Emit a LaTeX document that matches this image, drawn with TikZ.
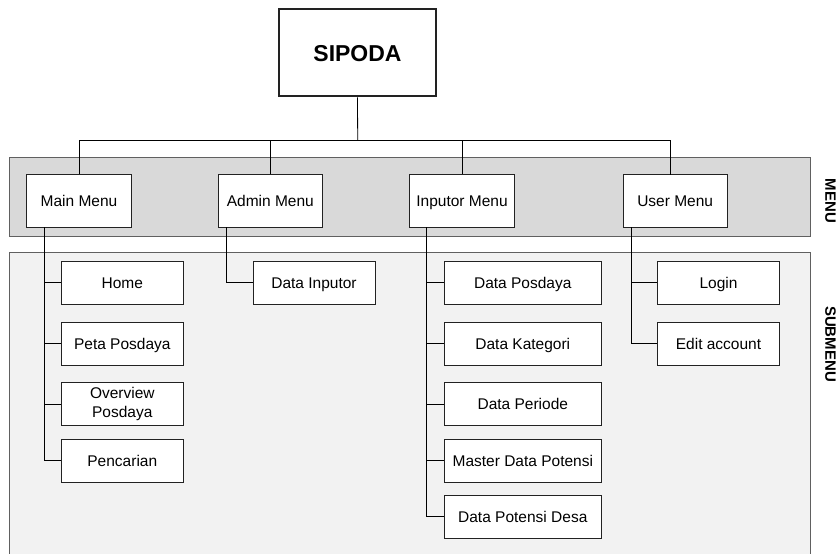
\documentclass[tikz,border=0pt]{standalone}
\usepackage{fontspec}
\setmainfont{Liberation Sans}
\usetikzlibrary{calc}
\definecolor{bandA}{HTML}{D9D9D9}
\definecolor{bandB}{HTML}{F2F2F2}
\definecolor{bandline}{HTML}{606060}
\definecolor{boxline}{HTML}{222222}
\begin{document}
\begin{tikzpicture}[x=1pt,y=-1pt,
  box/.style={draw=boxline,fill=white,line width=0.9pt,rectangle,inner sep=0pt,
    font=\fontsize{15.5}{18.7}\selectfont,align=center},
  oneline/.style={text height=11.5pt,text depth=0.5pt},
  menubox/.style={box,oneline,minimum width=104.5pt,minimum height=52.3pt},
  subbox/.style={box,oneline,minimum width=122pt,minimum height=43pt},
  twobox/.style={box,minimum width=122pt,minimum height=43pt},
  widebox/.style={box,oneline,minimum width=157pt,minimum height=43pt},
  conn/.style={draw=black,line width=0.8pt},
  bandedge/.style={draw=bandline,line width=0.9pt},
  sidelabel/.style={font=\fontsize{15}{18}\selectfont\bfseries,rotate=-90,inner sep=0pt}]
\useasboundingbox (0,0) rectangle (838,554);
% bands
\fill[bandA] (9,157) rectangle (810,236);
\draw[bandedge] (9,157) rectangle (810,236);
\fill[bandB] (9,252.7) rectangle (810,554);
\draw[bandedge] (9,554) -- (9,252.7) -- (810,252.7) -- (810,554);
\node[sidelabel] (lmenu) at (830.5,201) {MENU};
\node[sidelabel] (lsub) at (830.5,344) {SUBMENU};
% root
\node[box,line width=2pt,minimum width=157pt,minimum height=87pt,
  text height=16.5pt,text depth=0pt,
  font=\fontsize{23}{27}\selectfont\bfseries] (sipoda) at (357.5,52.8) {SIPODA};
% menus
\node[menubox] (mm) at (79,200.8) {Main Menu};
\node[menubox] (am) at (270.3,200.8) {Admin Menu};
\node[menubox] (im) at (462,200.8) {Inputor Menu};
\node[menubox] (um) at (675.2,200.8) {User Menu};
% bus
\coordinate (bus) at (357.7,140);
\coordinate (utop) at (670.7,174.7);
\draw[conn] (sipoda.south) -- (bus);
\draw[conn] (bus) -| (mm.north);
\draw[conn] (bus) -| (am.north);
\draw[conn] (bus) -| (im.north);
\draw[conn] (bus) -| (utop);
% submenus: main
\node[subbox] (home) at (122.3,282.8) {Home};
\node[subbox] (peta) at (122.3,343.8) {Peta Posdaya};
\node[twobox] (over) at (122.3,404.3) {Overview\\Posdaya};
\node[subbox] (cari) at (122.3,460.7) {Pencarian};
% admin
\node[subbox] (dinp) at (314,282.8) {Data Inputor};
% inputor
\node[widebox] (dpos) at (522.8,282.8) {Data Posdaya};
\node[widebox] (dkat) at (522.8,343.8) {Data Kategori};
\node[widebox] (dper) at (522.8,404.3) {Data Periode};
\node[widebox] (mdp) at (522.8,460.7) {Master Data Potensi};
\node[widebox] (dpd) at (522.8,516.8) {Data Potensi Desa};
% user
\node[subbox] (login) at (718.5,282.8) {Login};
\node[subbox] (edit) at (718.5,343.8) {Edit account};
% trunks
\coordinate (mt) at (44.3,227);
\coordinate (at) at (226.7,227);
\coordinate (it) at (426.7,227);
\coordinate (ut) at (631.7,227);
\foreach \n in {home,peta,over,cari} \draw[conn] (mt) |- (\n.west);
\draw[conn] (at) |- (dinp.west);
\foreach \n in {dpos,dkat,dper,mdp,dpd} \draw[conn] (it) |- (\n.west);
\foreach \n in {login,edit} \draw[conn] (ut) |- (\n.west);
\end{tikzpicture}
\end{document}
